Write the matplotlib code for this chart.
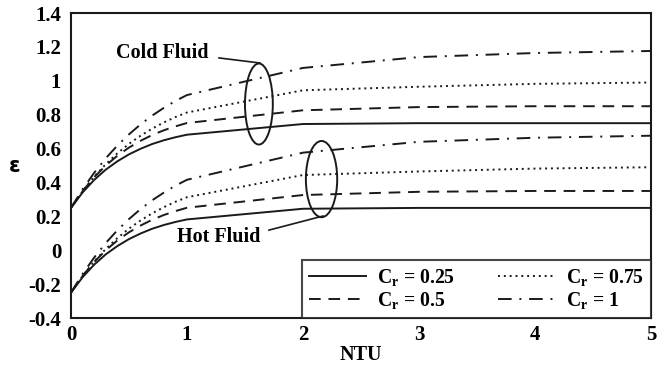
import matplotlib
matplotlib.use("Agg")
import matplotlib.pyplot as plt
from matplotlib import font_manager
from matplotlib.font_manager import FontProperties
from matplotlib.patches import Ellipse

## Data
ntu = [0, 0.1, 0.2, 0.3, 0.4, 0.5, 0.6, 0.7, 0.8, 0.9, 1.0, 2, 3, 4, 5]

cold_025 = [0.25, 0.341, 0.415, 0.476, 0.525, 0.566, 0.599, 0.627, 0.649, 0.667, 0.682, 0.745, 0.75, 0.75, 0.75]
cold_05 = [0.25, 0.349, 0.431, 0.500, 0.558, 0.606, 0.646, 0.680, 0.708, 0.731, 0.751, 0.826, 0.845, 0.85, 0.85]
cold_075 = [0.25, 0.348, 0.434, 0.508, 0.572, 0.628, 0.676, 0.718, 0.754, 0.786, 0.813, 0.944, 0.965, 0.982, 0.99]
cold_1 = [0.25, 0.360, 0.457, 0.543, 0.618, 0.684, 0.743, 0.795, 0.840, 0.881, 0.916, 1.076, 1.14, 1.164, 1.176]

hot_025 = [-0.25, -0.159, -0.085, -0.024, 0.025, 0.066, 0.099, 0.127, 0.149, 0.167, 0.182, 0.245, 0.25, 0.25, 0.25]
hot_05 = [-0.25, -0.151, -0.069, 0.000, 0.058, 0.106, 0.146, 0.180, 0.208, 0.231, 0.251, 0.326, 0.345, 0.35, 0.35]
hot_075 = [-0.25, -0.152, -0.066, 0.008, 0.072, 0.128, 0.176, 0.218, 0.254, 0.286, 0.313, 0.444, 0.465, 0.482, 0.49]
hot_1 = [-0.25, -0.140, -0.043, 0.043, 0.118, 0.184, 0.243, 0.295, 0.340, 0.381, 0.416, 0.576, 0.64, 0.664, 0.676]

cr_labels = ["0.25", "0.5", "0.75", "1"]
x_ticks = [0, 1, 2, 3, 4, 5]
y_ticks = [-0.4, -0.2, 0, 0.2, 0.4, 0.6, 0.8, 1, 1.2, 1.4]
y_ticklabels = ["-0.4", "-0.2", "0", "0.2", "0.4", "0.6", "0.8", "1", "1.2", "1.4"]

## pick a serif family that really has a bold face
serif = "DejaVu Serif"
for fam in ["Liberation Serif", "Times New Roman", "DejaVu Serif"]:
    path = font_manager.findfont(FontProperties(family=fam, weight="bold"), fallback_to_default=False) \
        if fam in {f.name for f in font_manager.fontManager.ttflist} else ""
    if "bold" in path.lower():
        serif = fam
        break

plt.rcParams["font.family"] = serif
plt.rcParams["font.weight"] = "bold"
plt.rcParams["mathtext.fontset"] = "custom"
plt.rcParams["mathtext.bf"] = serif + ":bold"
plt.rcParams["mathtext.rm"] = serif + ":bold"

FS = 14.5
INK = "#1a1a1a"

fig = plt.figure(figsize=(6.67, 3.72), dpi=100)
ax = fig.add_axes([0.1064, 0.145, 0.8696, 0.82])

styles = [
    dict(linestyle="-"),
    dict(linestyle=(0, (6, 4))),
    dict(linestyle=(0, (1, 2))),
    dict(linestyle=(0, (7, 4, 1, 4))),
]
cold = [cold_025, cold_05, cold_075, cold_1]
hot = [hot_025, hot_05, hot_075, hot_1]

handles = []
for c, h, st, lab in zip(cold, hot, styles, cr_labels):
    line, = ax.plot(ntu, c, color=INK, lw=1.4, **st,
                    label=r"$\mathbf{C_r}$ = " + lab)
    ax.plot(ntu, h, color=INK, lw=1.4, **st)
    handles.append(line)

## Ellipses and annotations
ax.add_patch(Ellipse((1.62, 0.863), 0.24, 0.478, fill=False, lw=1.4, ec=INK))
ax.add_patch(Ellipse((2.16, 0.42), 0.27, 0.45, fill=False, lw=1.4, ec=INK))
ax.plot([1.276, 1.63], [1.135, 1.105], color=INK, lw=1.2)
ax.plot([1.707, 2.172], [0.119, 0.202], color=INK, lw=1.2)
ax.text(0.785, 1.164, "Cold Fluid", fontsize=FS, fontweight="bold", va="center", ha="center")
ax.text(1.27, 0.078, "Hot Fluid", fontsize=FS, fontweight="bold", va="center", ha="center")

ax.set_xlim(0, 5)
ax.set_ylim(-0.4, 1.4)
ax.set_xticks(x_ticks)
ax.set_yticks(y_ticks)
ax.set_xticklabels([str(t) for t in x_ticks])
ax.set_yticklabels(y_ticklabels)
ax.tick_params(length=0, labelsize=15, pad=7)
ax.tick_params(axis="x", pad=5)
for sp in ax.spines.values():
    sp.set_linewidth(1.5)
    sp.set_color(INK)

ax.set_xlabel("NTU", fontsize=FS, fontweight="bold", va="center")
ax.xaxis.set_label_coords(0.5, -0.121)
ax.set_ylabel("ε", fontsize=15, fontweight="bold", rotation=0, family="DejaVu Sans",
              va="center", ha="center")
ax.yaxis.set_label_coords(-0.097, 0.50)

## legend box stretched over the same span as the original (x 2 .. 5)
leg = ax.legend(handles=handles, ncol=2, mode="expand",
                loc="lower left", bbox_to_anchor=(0.398, 0.0, 0.602, 0.19),
                borderaxespad=0, fancybox=False, fontsize=14.2,
                handlelength=2.9, handletextpad=0.55, columnspacing=1.1,
                labelspacing=0.1, borderpad=0.35)
leg.get_frame().set_edgecolor(INK)
leg.get_frame().set_linewidth(1.5)

fig.savefig("out.png", dpi=100)
